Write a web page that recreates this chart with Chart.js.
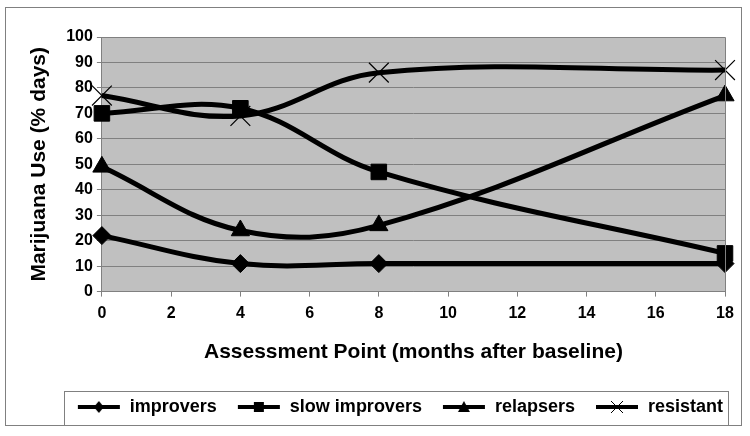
<!DOCTYPE html>
<html>
<head>
<meta charset="utf-8">
<script src="https://cdn.jsdelivr.net/npm/chart.js@4"></script>
<style>
  html, body { margin: 0; padding: 0; background: #fff; }
  #wrap { width: 750px; height: 436px; }
</style>
</head>
<body>
<div id="wrap"><canvas id="chart" width="750" height="436"></canvas></div>
<script>
// data
const months = [0, 4, 8, 18];
const improvers = [22, 11, 11, 11];
const slowImprovers = [70, 72, 47, 15];
const relapsers = [49, 24, 26, 77];
const resistant = [77, 69, 86, 87];
const seriesNames = ['improvers', 'slow improvers', 'relapsers', 'resistant'];

const FONT = '"Liberation Sans", Arial, sans-serif';

function toPoints(vals) {
    return months.map((m, i) => ({ x: m, y: vals[i] }));
}

// little legend samples: thick line with marker in the middle
function legendSample(style) {
    const c = document.createElement('canvas');
    c.width = 44; c.height = 14;
    const g = c.getContext('2d');
    g.strokeStyle = '#000';
    g.fillStyle = '#000';
    g.lineWidth = 4;
    g.beginPath(); g.moveTo(1, 7); g.lineTo(43, 7); g.stroke();
    const cx = 22, cy = 7;
    g.beginPath();
    if (style === 'rectRot') {
        g.moveTo(cx - 5, cy); g.lineTo(cx, cy - 6); g.lineTo(cx + 5, cy); g.lineTo(cx, cy + 6);
        g.closePath(); g.fill();
    } else if (style === 'rect') {
        g.fillRect(cx - 5, cy - 5, 10, 10);
    } else if (style === 'triangle') {
        g.moveTo(cx, cy - 6); g.lineTo(cx + 6, cy + 5); g.lineTo(cx - 6, cy + 5);
        g.closePath(); g.fill();
    } else {
        g.lineWidth = 1;
        g.moveTo(cx - 6, cy - 6); g.lineTo(cx + 6, cy + 6);
        g.moveTo(cx + 6, cy - 6); g.lineTo(cx - 6, cy + 6);
        g.stroke();
    }
    return c;
}

const styles = ['rectRot', 'rect', 'triangle', 'crossRot'];
const radii = [9, 11, 10.5, 14];
const allValues = [improvers, slowImprovers, relapsers, resistant];

const datasets = allValues.map((vals, i) => ({
    label: seriesNames[i],
    data: toPoints(vals),
    borderColor: '#000',
    backgroundColor: '#000',
    borderWidth: 5,
    tension: 0.38,
    clip: false,
    pointStyle: styles[i],
    pointRadius: radii[i],
    pointBorderWidth: i === 3 ? 1.2 : 1,
    pointBorderColor: '#000',
    pointBackgroundColor: '#000',
    legendStyle: legendSample(styles[i])
}));

const frame = {
    id: 'frame',
    afterLayout(chart) {
        // nudge legend to the right like the original
        chart.legend.left += 18;
        chart.legend.right += 18;
    },
    beforeDraw(chart) {
        const { ctx, chartArea: a } = chart;
        ctx.save();
        ctx.fillStyle = '#fff';
        ctx.fillRect(0, 0, chart.width, chart.height);
        ctx.fillStyle = '#c0c0c0';
        ctx.fillRect(a.left, a.top, a.right - a.left, a.bottom - a.top);
        ctx.restore();
    },
    afterDatasetsDraw(chart) {
        const { ctx, chartArea: a } = chart;
        ctx.save();
        ctx.strokeStyle = '#808080';
        ctx.lineWidth = 1;
        ctx.beginPath();
        ctx.moveTo(a.left, a.top + 0.5); ctx.lineTo(a.right + 0.5, a.top + 0.5);
        ctx.lineTo(a.right + 0.5, a.bottom);
        ctx.stroke();
        // outer border
        ctx.strokeRect(5.5, 7.5, 736, 418);
        ctx.restore();
    },
    afterDraw(chart) {
        const ctx = chart.ctx;
        const hb = chart.legend.legendHitBoxes;
        if (hb && hb.length) {
            const l = Math.min(...hb.map(h => h.left)) - 13;
            const r = Math.max(...hb.map(h => h.left + h.width)) + 5;
            ctx.save();
            ctx.strokeStyle = '#808080';
            ctx.lineWidth = 1;
            ctx.strokeRect(Math.round(l) + 0.5, 391.5, Math.round(r - l), 34);
            ctx.restore();
        }
    }
};

new Chart(document.getElementById('chart'), {
    type: 'line',
    data: { datasets: datasets },
    options: {
        responsive: false,
        animation: false,
        layout: { padding: { top: 37, right: 25, left: 27, bottom: 10 } },
        plugins: {
            tooltip: { enabled: false },
            legend: {
                position: 'bottom',
                align: 'end',
                labels: {
                    usePointStyle: true,
                    pointStyleWidth: 44,
                    padding: 20,
                    color: '#000',
                    font: { family: FONT, size: 18, weight: 'bold' },
                    generateLabels(chart) {
                        return chart.data.datasets.map((d, i) => ({
                            text: d.label,
                            pointStyle: d.legendStyle,
                            fillStyle: '#000',
                            strokeStyle: '#000',
                            lineWidth: 0,
                            datasetIndex: i,
                            fontColor: '#000'
                        }));
                    }
                }
            }
        },
        scales: {
            x: {
                type: 'linear',
                min: 0,
                max: 18,
                ticks: { stepSize: 2, color: '#000', font: { family: FONT, size: 16, weight: 'bold' }, padding: 7 },
                grid: { drawOnChartArea: false, drawTicks: true, tickLength: 5, color: '#808080' },
                border: { color: '#808080' },
                title: {
                    display: true,
                    text: 'Assessment Point (months after baseline)',
                    color: '#000',
                    font: { family: FONT, size: 21, weight: 'bold' },
                    padding: { top: 10, bottom: 13 }
                }
            },
            y: {
                min: 0,
                max: 100,
                ticks: { stepSize: 10, color: '#000', font: { family: FONT, size: 16, weight: 'bold' }, padding: 4 },
                grid: { color: '#808080', tickLength: 5, drawTicks: true },
                border: { color: '#808080' },
                title: {
                    display: true,
                    text: 'Marijuana Use (% days)',
                    color: '#000',
                    font: { family: FONT, size: 21, weight: 'bold' },
                    padding: { top: 0, bottom: 10 }
                }
            }
        }
    },
    plugins: [frame]
});
</script>
</body>
</html>
